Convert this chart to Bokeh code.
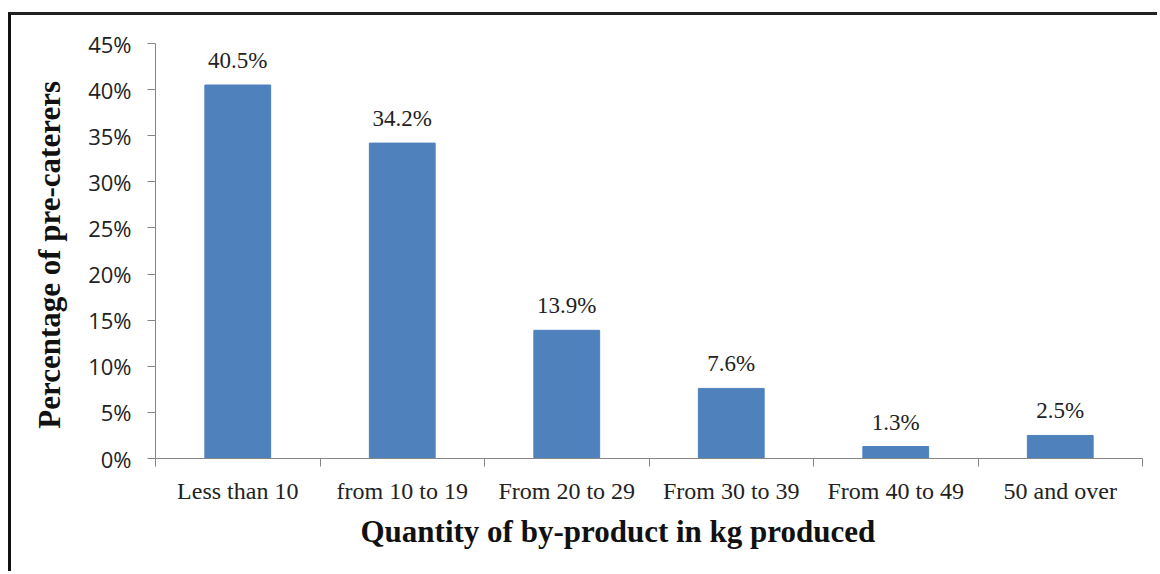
from bokeh.plotting import figure
from bokeh.models import FixedTicker, ColumnDataSource, LabelSet, Title, Range1d
from bokeh.embed import file_html
from bokeh.resources import INLINE

categories = ["Less than 10", "from 10 to 19", "From 20 to 29",
              "From 30 to 39", "From 40 to 49", "50 and over"]
values = [40.5, 34.2, 13.9, 7.6, 1.3, 2.5]
value_labels = ["40.5%", "34.2%", "13.9%", "7.6%", "1.3%", "2.5%"]
y_ticks = [0, 5, 10, 15, 20, 25, 30, 35, 40, 45]
y_tick_labels = ["0%", "5%", "10%", "15%", "20%", "25%", "30%", "35%", "40%", "45%"]
x_title = "Quantity of  by-product in kg produced"
y_title = "Percentage of  pre-caterers"

n = len(categories)
centers = [i + 0.5 for i in range(n)]
src = ColumnDataSource(dict(x=centers, top=values, label=value_labels))

p = figure(width=1149, height=559, margin=(12, 0, 0, 8),
           x_range=Range1d(0, n), y_range=Range1d(0, 45),
           output_backend="svg", toolbar_location=None,
           min_border_left=144, min_border_right=18,
           min_border_top=28, min_border_bottom=116)
p.styles = {"border-left": "3px solid #111111", "border-top": "3px solid #222222"}
p.outline_line_color = None
p.xgrid.visible = False
p.ygrid.visible = False

p.vbar(x="x", top="top", width=0.4, bottom=0, source=src,
       fill_color="#4F81BD", line_color="#4F81BD")

labels = LabelSet(x="x", y="top", text="label", source=src,
                  y_offset=17, text_align="center", text_baseline="alphabetic",
                  text_font="Open Sans", text_font_size="23px", text_color="#222222")
p.add_layout(labels)

# x axis
xa = p.xaxis[0]
xa.ticker = FixedTicker(ticks=centers, minor_ticks=list(range(n + 1)))
xa.major_label_overrides = {c: lab for c, lab in zip(centers, categories)}
xa.major_tick_out = 0
xa.major_tick_in = 0
xa.minor_tick_out = 8
xa.minor_tick_in = 0
xa.minor_tick_line_color = "#868686"
xa.axis_line_color = "#868686"
xa.major_label_standoff = 11
xa.major_label_text_font = "Liberation Serif"
xa.major_label_text_font_size = "24px"
xa.major_label_text_color = "#222222"

# y axis
ya = p.yaxis[0]
ya.ticker = FixedTicker(ticks=y_ticks, minor_ticks=[])
ya.major_label_overrides = {t: lab for t, lab in zip(y_ticks, y_tick_labels)}
ya.major_tick_out = 8
ya.major_tick_in = 0
ya.major_tick_line_color = "#868686"
ya.axis_line_color = "#868686"
ya.major_label_standoff = 16
ya.major_label_text_font = "Open Sans"
ya.major_label_text_font_size = "22px"
ya.major_label_text_color = "#222222"
ya.axis_label = y_title
ya.axis_label_text_font = "Liberation Serif"
ya.axis_label_text_font_style = "bold"
ya.axis_label_text_font_size = "31px"
ya.axis_label_text_color = "#111111"
ya.axis_label_standoff = 18

t = Title(text=x_title, align="left", offset=205, standoff=10,
          text_font="Liberation Serif", text_font_style="bold",
          text_font_size="31px", text_color="#111111")
p.add_layout(t, "below")

open("out.html", "w").write(file_html(p, INLINE))
